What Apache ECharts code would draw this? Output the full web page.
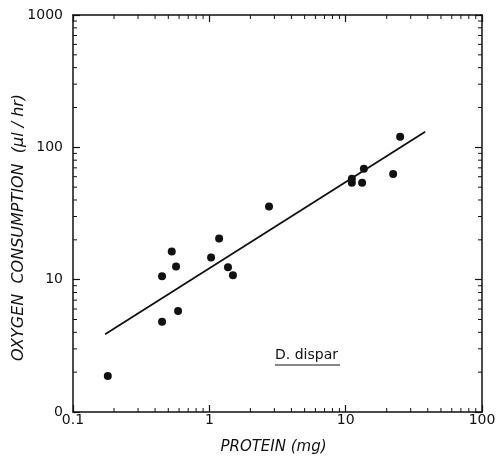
<!DOCTYPE html>
<html>
<head>
<meta charset="utf-8">
<script src="https://cdn.jsdelivr.net/npm/echarts@6/dist/echarts.min.js"></script>
<style>html,body{margin:0;padding:0;background:#fff}#c{width:501px;height:459px}</style>
</head>
<body>
<div id="c"></div>
<script>
// Measured points: protein (mg) vs oxygen consumption (µl/hr)
var proteinMg = [0.18, 0.45, 0.45, 0.53, 0.57, 0.59, 1.03, 1.18, 1.37, 1.49, 2.74, 11.1, 11.1, 13.2, 13.6, 22.3, 25.1];
var oxygenUlHr = [1.87, 10.6, 4.8, 16.3, 12.6, 5.8, 14.7, 20.5, 12.4, 10.8, 35.7, 58, 54, 54, 69, 63, 120];
// Fitted regression line end points
var fitX = [0.172, 38.3];
var fitY = [3.87, 131];
// Axis ticks / labels
var xTickValues = [0.1, 1, 10, 100];
var xTickLabels = ['0.1', '1', '10', '100'];
var yTickValues = [1, 10, 100, 1000];
var yTickLabels = ['0', '10', '100', '1000'];
var minorMultipliers = [2, 3, 4, 5, 6, 7, 8, 9];

function labelFor(values, labels) {
  return function (v) {
    for (var i = 0; i < values.length; i++) {
      if (Math.abs(v - values[i]) / values[i] < 1e-6) return labels[i];
    }
    return '';
  };
}

function minorValues(lo, hi) {
  var out = [];
  for (var d = lo; d < hi; d *= 10) {
    minorMultipliers.forEach(function (m) { out.push(+(m * d).toPrecision(6)); });
  }
  return out;
}

var xMinor = minorValues(0.1, 100);
var yMinor = minorValues(1, 1000);

var chart = echarts.init(document.getElementById('c'), null, {renderer: 'canvas'});
var ink = '#111';
var font = 'DejaVu Sans';

var scatterData = proteinMg.map(function (x, i) { return [x, oxygenUlHr[i]]; });
var lineData = fitX.map(function (x, i) { return [x, fitY[i]]; });

var tickLen = 4;

chart.setOption({
  animation: false,
  backgroundColor: '#fff',
  grid: {left: 73, right: 19, top: 15, bottom: 47, containLabel: false, outerBoundsMode: 'none'},
  xAxis: [{
    type: 'log', logBase: 10, min: 0.1, max: 100, position: 'bottom',
    name: 'PROTEIN (mg)', nameLocation: 'middle', nameGap: 28, nameMoveOverlap: false,
    nameTextStyle: {fontFamily: font, fontStyle: 'italic', fontSize: 15, color: ink, padding: [0, 8, 0, 0]},
    axisLine: {show: true, lineStyle: {color: ink, width: 1.5}},
    axisTick: {show: true, inside: true, length: 7, lineStyle: {color: ink, width: 1.2}},
    axisLabel: {show: true, margin: 1, fontFamily: font, fontSize: 14, color: ink,
      formatter: labelFor(xTickValues, xTickLabels)},
    splitLine: {show: false}
  }, {
    type: 'log', logBase: 10, min: 0.1, max: 100, position: 'top',
    axisLine: {show: true, lineStyle: {color: ink, width: 1.5}},
    axisTick: {show: true, inside: true, length: 7, lineStyle: {color: ink, width: 1.2}},
    axisLabel: {show: false}, splitLine: {show: false}
  }],
  yAxis: [{
    type: 'log', logBase: 10, min: 1, max: 1000, position: 'left',
    name: 'OXYGEN  CONSUMPTION  (\u00b5l / hr)', nameLocation: 'middle', nameGap: 46, nameMoveOverlap: false,
    nameTextStyle: {fontFamily: font, fontStyle: 'italic', fontSize: 16, color: ink, padding: [0, 28, 0, 0]},
    axisLine: {show: true, lineStyle: {color: ink, width: 1.5}},
    axisTick: {show: true, inside: true, length: 7, lineStyle: {color: ink, width: 1.2}},
    axisLabel: {show: true, margin: 10, fontFamily: font, fontSize: 14, color: ink,
      formatter: labelFor(yTickValues, yTickLabels)},
    splitLine: {show: false}
  }, {
    type: 'log', logBase: 10, min: 1, max: 1000, position: 'right',
    axisLine: {show: true, lineStyle: {color: ink, width: 1.5}},
    axisTick: {show: true, inside: true, length: 7, lineStyle: {color: ink, width: 1.2}},
    axisLabel: {show: false}, splitLine: {show: false}
  }],
  series: [{
    type: 'line', data: lineData, showSymbol: false, symbol: 'none',
    lineStyle: {color: ink, width: 1.8}, silent: true, z: 3
  }, {
    type: 'scatter', data: scatterData, symbol: 'circle', symbolSize: 8,
    itemStyle: {color: ink, opacity: 1}, z: 4
  }, {
    type: 'custom', coordinateSystem: 'cartesian2d', silent: true, clip: false,
    data: xMinor.map(function (v) { return [v, 1]; }),
    renderItem: function (params, api) {
      var cs = params.coordSys;
      var px = api.coord([api.value(0), 1])[0];
      var yb = cs.y + cs.height, yt = cs.y;
      var st = {stroke: ink, lineWidth: 1};
      return {type: 'group', children: [
        {type: 'line', shape: {x1: px, y1: yb, x2: px, y2: yb - tickLen}, style: st},
        {type: 'line', shape: {x1: px, y1: yt, x2: px, y2: yt + tickLen}, style: st}
      ]};
    }
  }, {
    type: 'custom', coordinateSystem: 'cartesian2d', silent: true, clip: false,
    data: yMinor.map(function (v) { return [1, v]; }),
    renderItem: function (params, api) {
      var cs = params.coordSys;
      var py = api.coord([1, api.value(1)])[1];
      var xl = cs.x, xr = cs.x + cs.width;
      var st = {stroke: ink, lineWidth: 1};
      return {type: 'group', children: [
        {type: 'line', shape: {x1: xl, y1: py, x2: xl + tickLen, y2: py}, style: st},
        {type: 'line', shape: {x1: xr, y1: py, x2: xr - tickLen, y2: py}, style: st}
      ]};
    }
  }],
  graphic: [{
    type: 'text', left: 275, top: 348,
    style: {text: 'D. dispar', fontFamily: font, fontSize: 14, fill: ink}
  }, {
    type: 'line', shape: {x1: 275, y1: 365, x2: 340, y2: 365},
    style: {stroke: ink, lineWidth: 1.2}
  }]
});
</script>
</body>
</html>
